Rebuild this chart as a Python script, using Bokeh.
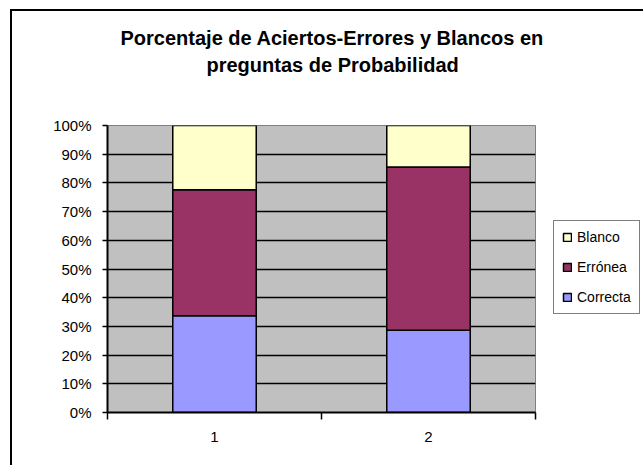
from bokeh.plotting import figure
from bokeh.models import (ColumnDataSource, FixedTicker, PrintfTickFormatter,
                          Legend, LegendItem, Title, Range1d)
from bokeh.embed import file_html
from bokeh.resources import INLINE

# ---- data ----
title_lines = ["Porcentaje de Aciertos-Errores y Blancos en",
               "preguntas de Probabilidad"]
categories = [1, 2]
cat_labels = ["1", "2"]
series_names = ["Correcta", "Errónea", "Blanco"]
correcta = [33.7, 28.7]
erronea = [43.9, 56.8]
blanco = [22.4, 14.5]
series_colors = ["#9999FF", "#993366", "#FFFFCC"]
y_ticks = [0, 10, 20, 30, 40, 50, 60, 70, 80, 90, 100]

source = ColumnDataSource(dict(x=categories, correcta=correcta,
                               erronea=erronea, blanco=blanco))

FONT = "Liberation Sans"

p = figure(x_range=Range1d(0.5, 2.5), y_range=Range1d(0, 100),
           frame_width=428, frame_height=287,
           min_border_left=95, min_border_top=114,
           min_border_right=97, min_border_bottom=53,
           output_backend="svg", toolbar_location=None,
           background_fill_color="#C0C0C0", border_fill_color="white")
p.styles = {"border-left": "2px solid black", "border-top": "2px solid black",
            "margin-left": "10px", "margin-top": "9px"}

renderers = p.vbar_stack(["correcta", "erronea", "blanco"], x="x", width=0.39,
                         fill_color=series_colors, line_color="black",
                         line_width=1.5, source=source)

# grid
p.xgrid.visible = False
p.ygrid.ticker = FixedTicker(ticks=y_ticks[1:-1])
p.ygrid.grid_line_color = "black"
p.ygrid.grid_line_width = 1.5
p.outline_line_color = "#808080"
p.outline_line_width = 1

# x axis
p.xaxis.ticker = FixedTicker(ticks=categories, minor_ticks=[0.5, 1.5, 2.5])
p.xaxis.major_label_overrides = {c: l for c, l in zip(categories, cat_labels)}
p.xaxis.major_tick_line_color = None
p.xaxis.major_tick_out = 0
p.xaxis.major_tick_in = 0
p.xaxis.minor_tick_out = 7
p.xaxis.minor_tick_in = 0
p.xaxis.minor_tick_line_color = "black"
p.xaxis.minor_tick_line_width = 1.5
p.xaxis.major_label_standoff = 12

# y axis
p.yaxis.ticker = FixedTicker(ticks=y_ticks, minor_ticks=[])
p.yaxis.formatter = PrintfTickFormatter(format="%d%%")
p.yaxis.major_tick_out = 5
p.yaxis.major_tick_in = 0
p.yaxis.major_tick_line_width = 1.5
p.yaxis.major_tick_line_color = "black"
p.yaxis.minor_tick_line_color = None
p.yaxis.major_label_standoff = 11

for ax in (p.xaxis, p.yaxis):
    ax.axis_line_color = "black"
    ax.axis_line_width = 2
    ax.major_label_text_font = FONT
    ax.major_label_text_font_size = "15px"
    ax.major_label_text_color = "black"

# legend (right panel)
items = [LegendItem(label=n, renderers=[r])
         for n, r in reversed(list(zip(series_names, renderers)))]
legend = Legend(items=items, location=(18, 98), margin=0,
                padding=8, spacing=14, glyph_width=10, glyph_height=10,
                label_height=10, label_standoff=5,
                label_text_font=FONT, label_text_font_size="14px",
                label_text_color="black",
                border_line_color="black", border_line_width=1.5,
                background_fill_color="white", background_fill_alpha=1)
p.add_layout(legend, "right")

# title: spacer next to the frame, then line 2, then line 1
p.add_layout(Title(text=" ", text_font_size="10px", standoff=35), "above")
p.add_layout(Title(text=title_lines[1], align="left", offset=99,
                   vertical_align="bottom", standoff=4,
                   text_font=FONT, text_font_style="bold",
                   text_font_size="20px", text_color="black"), "above")
p.add_layout(Title(text=title_lines[0], align="left", offset=13,
                   vertical_align="bottom", standoff=2,
                   text_font=FONT, text_font_style="bold",
                   text_font_size="20px", text_color="black"), "above")

open("out.html", "w").write(file_html(p, INLINE))
